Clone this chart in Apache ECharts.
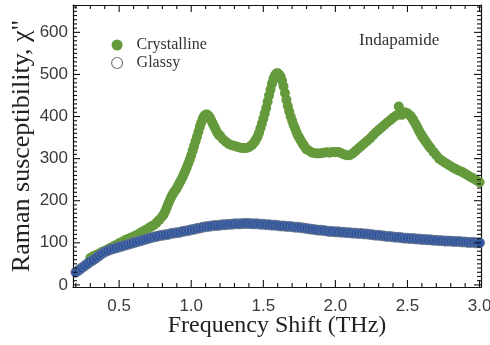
<!DOCTYPE html>
<html>
<head>
<meta charset="utf-8">
<script src="https://cdn.jsdelivr.net/npm/echarts@6/dist/echarts.min.js"></script>
<style>html,body{margin:0;padding:0;background:#fff;}#chart{width:490px;height:345px;}</style>
</head>
<body>
<div id="chart"></div>
<script>
// Frequency shift (THz) sample positions
const freq = [
0.20,0.22,0.24,0.26,0.28, 0.30,0.32,0.34,0.36,0.38,
0.40,0.42,0.44,0.46,0.48, 0.50,0.52,0.54,0.56,0.58,
0.60,0.62,0.64,0.66,0.68, 0.70,0.72,0.74,0.76,0.78,
0.80,0.82,0.84,0.86,0.88, 0.90,0.92,0.94,0.96,0.98,
1.00,1.02,1.04,1.06,1.08, 1.10,1.12,1.14,1.16,1.18,
1.20,1.22,1.24,1.26,1.28, 1.30,1.32,1.34,1.36,1.38,
1.40,1.42,1.44,1.46,1.48, 1.50,1.52,1.54,1.56,1.58,
1.60,1.62,1.64,1.66,1.68, 1.70,1.72,1.74,1.76,1.78,
1.80,1.82,1.84,1.86,1.88, 1.90,1.92,1.94,1.96,1.98,
2.00,2.02,2.04,2.06,2.08, 2.10,2.12,2.14,2.16,2.18,
2.20,2.22,2.24,2.26,2.28, 2.30,2.32,2.34,2.36,2.38,
2.40,2.42,2.44,2.46,2.48, 2.50,2.52,2.54,2.56,2.58,
2.60,2.62,2.64,2.66,2.68, 2.70,2.72,2.74,2.76,2.78,
2.80,2.82,2.84,2.86,2.88, 2.90,2.92,2.94,2.96,2.98,
3.00];

// Crystalline Raman susceptibility (at freq)
const crystalline = [
null,null,null,null,null, 64,68,71,74,78,
81,84,88,91,95, 99,102,106,109,112,
115,118,122,126,130, 134,138,142,148,155,
163,175,192,208,220, 230,243,256,272,289,
308,330,352,376,395, 404,402,390,376,362,
354,346,340,335,332, 330,328,326,325,325,
327,332,340,352,372, 395,420,450,478,497,
503,495,472,440,412, 390,372,355,343,332,
322,318,314,313,312, 313,314,315,314,316,
315,316,313,310,308, 308,312,318,324,330,
336,342,348,355,362, 368,374,380,386,391,
397,402,406,404,410, 408,402,392,380,366,
354,344,334,325,316, 308,300,295,290,286,
282,278,274,271,268, 264,260,256,252,248,
244];

// Extra crystalline readings on the steep flanks
const crystFineFreq = [
0.81,0.83,0.85,0.87,0.89,0.91,0.93,0.95,0.97,0.99,
1.01,1.03,1.05,1.07,1.09,1.11,1.13,1.15,1.17,1.19,
1.43,1.45,1.47,1.49,1.51,1.53,1.55,1.57,1.59,1.61,
1.63,1.65,1.67,1.69,1.71,1.73,1.75,1.77,1.79,
2.44,2.53,2.55,2.57,2.59,2.61,2.63,2.65];
const crystFineVal = [
168,183,200,214,225,236,249,264,280,298,
319,341,364,386,401,405,397,383,369,357,
336,346,361,383,407,435,464,489,502,500,
485,456,425,400,380,363,349,337,327,
424,397,386,373,360,349,339,329];

// Glassy Raman susceptibility (at freq)
const glassy = [
30,35,40,45,50, 55,59,64,69,74,
78,81,84,86,88, 90,92,94,96,98,
100,102,104,106,108, 110,112,114,115,117,
118,119,120,122,123, 124,125,127,128,129,
131,132,134,135,137, 138,139,140,141,141,
142,143,143,144,144, 145,145,145,146,146,
146,145,145,145,144, 144,143,143,142,142,
141,140,140,139,139, 138,137,137,136,135,
134,133,132,131,130, 130,129,128,127,127,
126,126,125,125,124, 124,123,123,122,122,
121,121,120,119,118, 118,117,116,115,115,
114,113,113,112,111, 111,110,110,109,109,
108,108,107,107,106, 106,105,105,104,104,
104,103,103,103,102, 102,101,101,101,100,
100];

// Tick positions / labels
const xMajorTicks = [0.5,1.0,1.5,2.0,2.5,3.0];
const xMinorTicks = [0.2,0.3,0.4,0.6,0.7,0.8,0.9,1.1,1.2,1.3,1.4,1.6,1.7,1.8,1.9,2.1,2.2,2.3,2.4,2.6,2.7,2.8,2.9];
const yMajorTicks = [0,100,200,300,400,500,600];
const yMinorStep = 10;
const yMinorTicks = [];
for (let v = yMinorStep; v <= 660; v += yMinorStep) { if (v % 100 !== 0) yMinorTicks.push(v); }

const seriesNames = ['Crystalline','Glassy'];
const annotation = 'Indapamide';
const xTitle = 'Frequency Shift (THz)';
const yTitle = 'Raman susceptibility, \u03C7"';

const X_MIN = 0.18, X_MAX = 3.01, Y_MIN = -5, Y_MAX = 665;
const GREEN = '#659a3c', BLUE = '#2b53a3';
const MAJOR_LEN = 7, MINOR_LEN = 4;

const crystData = [];
freq.forEach((f,i)=>{ if (crystalline[i] != null) crystData.push([f, crystalline[i]]); });
crystFineFreq.forEach((f,i)=>crystData.push([f, crystFineVal[i]]));
const glassyData = freq.map((f,i)=>[f, glassy[i]]);

const xTickData = xMajorTicks.map(v=>[v, MAJOR_LEN]).concat(xMinorTicks.map(v=>[v, MINOR_LEN]));
const yTickData = yMajorTicks.map(v=>[MAJOR_LEN, v]).concat(yMinorTicks.map(v=>[MINOR_LEN, v]));

const serif = 'Liberation Serif, Times New Roman, serif';
const sans = 'Liberation Sans, Arial, sans-serif';
const axisLineStyle = {color:'#111', width:1.2};
const tickStyle = {stroke:'#111', lineWidth:1.1};

function xAx(pos) {
  const main = pos === 'bottom';
  return {
    type:'value', position:pos, min:X_MIN, max:X_MAX,
    axisLine:{show:true, onZero:false, lineStyle:axisLineStyle},
    axisTick:{show:false},
    axisLabel: main ? {show:true, customValues:xMajorTicks, formatter:v=>v.toFixed(1),
      fontFamily:sans, fontSize:17, color:'#3a3a3a', margin:11} : {show:false},
    splitLine:{show:false},
    name: main ? xTitle : '',
    nameLocation:'middle', nameGap:27, nameMoveOverlap:false,
    nameTextStyle:{fontFamily:serif, fontSize:24, color:'#222'}
  };
}
function yAx(pos) {
  const main = pos === 'left';
  return {
    type:'value', position:pos, min:Y_MIN, max:Y_MAX,
    axisLine:{show:true, onZero:false, lineStyle:axisLineStyle},
    axisTick:{show:false},
    axisLabel: main ? {show:true, customValues:yMajorTicks,
      fontFamily:sans, fontSize:17, color:'#3a3a3a', margin:5} : {show:false},
    splitLine:{show:false},
    name: main ? yTitle : '',
    nameLocation:'middle', nameGap:38, nameRotate:90, nameMoveOverlap:false,
    nameTextStyle:{fontFamily:serif, fontSize:26, color:'#222'}
  };
}

const chart = echarts.init(document.getElementById('chart'), null, {renderer:'canvas'});
chart.setOption({
  animation:false,
  backgroundColor:'#fff',
  grid:{left:73, right:9, top:5, bottom:58, outerBoundsMode:'none', containLabel:false},
  title:{text:annotation, left:354, top:27,
    textStyle:{fontFamily:serif, fontSize:17, fontWeight:'normal', color:'#333'}},
  legend:{
    orient:'vertical', left:106, top:32, itemWidth:11, itemHeight:11, itemGap:2,
    textStyle:{fontFamily:serif, fontSize:16, color:'#333', padding:[0,0,0,9]},
    data:[
      {name:seriesNames[0], icon:'circle', itemStyle:{color:GREEN}},
      {name:seriesNames[1], icon:'circle', itemStyle:{color:'#fff', borderColor:'#777', borderWidth:1.2}}
    ]
  },
  xAxis:[xAx('bottom'), xAx('top')],
  yAxis:[yAx('left'), yAx('right')],
  series:[
    {name:seriesNames[0], type:'scatter', xAxisIndex:0, yAxisIndex:0, data:crystData,
      symbol:'circle', symbolSize:10, itemStyle:{color:GREEN, opacity:1}, z:2},
    {name:seriesNames[1], type:'scatter', xAxisIndex:0, yAxisIndex:0, data:glassyData,
      symbol:'circle', symbolSize:10, itemStyle:{color:BLUE, borderColor:'#6f7a8c', borderWidth:0.8, opacity:1}, z:3},
    {name:'xTicks', type:'custom', xAxisIndex:0, yAxisIndex:0, data:xTickData, silent:true, clip:false, z:5,
      renderItem:(params, api)=>{
        const v = api.value(0), len = api.value(1);
        const pb = api.coord([v, Y_MIN]), pt = api.coord([v, Y_MAX]);
        return {type:'group', children:[
          {type:'line', shape:{x1:pb[0], y1:pb[1], x2:pb[0], y2:pb[1]-len}, style:tickStyle},
          {type:'line', shape:{x1:pt[0], y1:pt[1], x2:pt[0], y2:pt[1]+len}, style:tickStyle}
        ]};
      }},
    {name:'yTicks', type:'custom', xAxisIndex:0, yAxisIndex:0, data:yTickData, silent:true, clip:false, z:5,
      renderItem:(params, api)=>{
        const len = api.value(0), v = api.value(1);
        const pl = api.coord([X_MIN, v]), pr = api.coord([X_MAX, v]);
        return {type:'group', children:[
          {type:'line', shape:{x1:pl[0], y1:pl[1], x2:pl[0]+len, y2:pl[1]}, style:tickStyle},
          {type:'line', shape:{x1:pr[0], y1:pr[1], x2:pr[0]-len, y2:pr[1]}, style:tickStyle}
        ]};
      }}
  ]
});
</script>
</body>
</html>
